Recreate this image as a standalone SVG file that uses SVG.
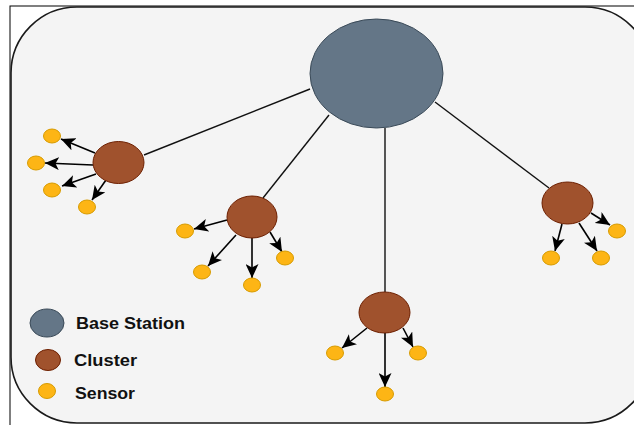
<svg xmlns="http://www.w3.org/2000/svg" width="634" height="425" viewBox="0 0 634 425">
  <defs>
    <marker id="arr" markerUnits="userSpaceOnUse" markerWidth="15" markerHeight="13" refX="14" refY="6.5" orient="auto" viewBox="0 0 15 13">
      <path d="M0,0 L14,6.5 L0,13 L3.5,6.5 Z" fill="#000"/>
    </marker>
    <style>
      .link{stroke:#111;stroke-width:1.4;fill:none}
      .arrow{stroke:#000;stroke-width:1.6;fill:none;marker-end:url(#arr)}
      .base{fill:#647687;stroke:#3a4a58;stroke-width:1}
      .cluster{fill:#a0522d;stroke:#6d1f00;stroke-width:1}
      .sensor{fill:#fdb515;stroke:#d79b00;stroke-width:1}
      .lbl{font-family:"Liberation Sans",Arial,sans-serif;font-weight:bold;font-size:16px;fill:#111}
    </style>
  </defs>
  <rect x="0" y="0" width="634" height="425" fill="#ffffff"/>
  <rect x="10" y="6" width="640" height="430" fill="none" stroke="#000" stroke-width="1"/>
  <rect x="11" y="7" width="640" height="416" rx="66" ry="66" fill="#f4f4f4" stroke="#1a1a1a" stroke-width="1.6"/>

  <g id="connectors">
    <line class="link" x1="310" y1="89" x2="144" y2="155"/>
    <line class="link" x1="329" y1="115" x2="263" y2="198"/>
    <line class="link" x1="385" y1="128" x2="385" y2="292"/>
    <line class="link" x1="435" y1="102" x2="549" y2="188"/>

    <line class="arrow" x1="95" y1="153" x2="61" y2="139"/>
    <line class="arrow" x1="93" y1="165" x2="45" y2="163"/>
    <line class="arrow" x1="96" y1="174" x2="62" y2="186"/>
    <line class="arrow" x1="106" y1="180" x2="92" y2="200"/>

    <line class="arrow" x1="227" y1="220" x2="194" y2="229"/>
    <line class="arrow" x1="236" y1="235" x2="208" y2="266"/>
    <line class="arrow" x1="252" y1="238" x2="252" y2="278"/>
    <line class="arrow" x1="270" y1="232" x2="282" y2="252"/>

    <line class="arrow" x1="367" y1="328" x2="342" y2="348"/>
    <line class="arrow" x1="403" y1="328" x2="413" y2="347"/>
    <line class="arrow" x1="385" y1="333" x2="385" y2="387"/>

    <line class="arrow" x1="591" y1="213" x2="610" y2="225"/>
    <line class="arrow" x1="562" y1="224" x2="555" y2="251"/>
    <line class="arrow" x1="579" y1="223" x2="597" y2="251"/>
  </g>

  <g id="base-station"><ellipse class="base" cx="376.5" cy="73.5" rx="66.5" ry="54.5"/></g>

  <g id="cluster-1"><ellipse class="cluster" cx="118.5" cy="162.5" rx="25.5" ry="21"/></g>
  <g id="cluster-2"><ellipse class="cluster" cx="252" cy="217" rx="25" ry="21"/></g>
  <g id="cluster-3"><ellipse class="cluster" cx="384.5" cy="312.5" rx="25.5" ry="20.5"/></g>
  <g id="cluster-4"><ellipse class="cluster" cx="567.5" cy="203" rx="25.5" ry="21"/></g>

  <g id="sensor-1a"><ellipse class="sensor" cx="52" cy="136" rx="8.5" ry="7"/></g>
  <g id="sensor-1b"><ellipse class="sensor" cx="36" cy="163" rx="8.5" ry="7"/></g>
  <g id="sensor-1c"><ellipse class="sensor" cx="52" cy="190" rx="8.5" ry="7"/></g>
  <g id="sensor-1d"><ellipse class="sensor" cx="87" cy="207" rx="8.5" ry="7"/></g>

  <g id="sensor-2a"><ellipse class="sensor" cx="185" cy="231" rx="8.5" ry="7"/></g>
  <g id="sensor-2b"><ellipse class="sensor" cx="202" cy="272" rx="8.5" ry="7"/></g>
  <g id="sensor-2c"><ellipse class="sensor" cx="252" cy="285" rx="8.5" ry="7"/></g>
  <g id="sensor-2d"><ellipse class="sensor" cx="285" cy="258" rx="8.5" ry="7"/></g>

  <g id="sensor-3a"><ellipse class="sensor" cx="335" cy="353" rx="8.5" ry="7"/></g>
  <g id="sensor-3b"><ellipse class="sensor" cx="418" cy="353" rx="8.5" ry="7"/></g>
  <g id="sensor-3c"><ellipse class="sensor" cx="385" cy="394" rx="8.5" ry="7"/></g>

  <g id="sensor-4a"><ellipse class="sensor" cx="617" cy="231" rx="8.5" ry="7"/></g>
  <g id="sensor-4b"><ellipse class="sensor" cx="551" cy="258" rx="8.5" ry="7"/></g>
  <g id="sensor-4c"><ellipse class="sensor" cx="601" cy="258" rx="8.5" ry="7"/></g>

  <g id="legend">
    <ellipse class="base" cx="47" cy="323" rx="17" ry="14"/>
    <text class="lbl" x="76" y="329" textLength="109" lengthAdjust="spacingAndGlyphs">Base Station</text>
    <ellipse class="cluster" cx="48" cy="360" rx="12.5" ry="10.5"/>
    <text class="lbl" x="74" y="366" textLength="63" lengthAdjust="spacingAndGlyphs">Cluster</text>
    <ellipse class="sensor" cx="47" cy="391" rx="8.5" ry="7.5"/>
    <text class="lbl" x="75" y="399" textLength="60" lengthAdjust="spacingAndGlyphs">Sensor</text>
  </g>
</svg>
